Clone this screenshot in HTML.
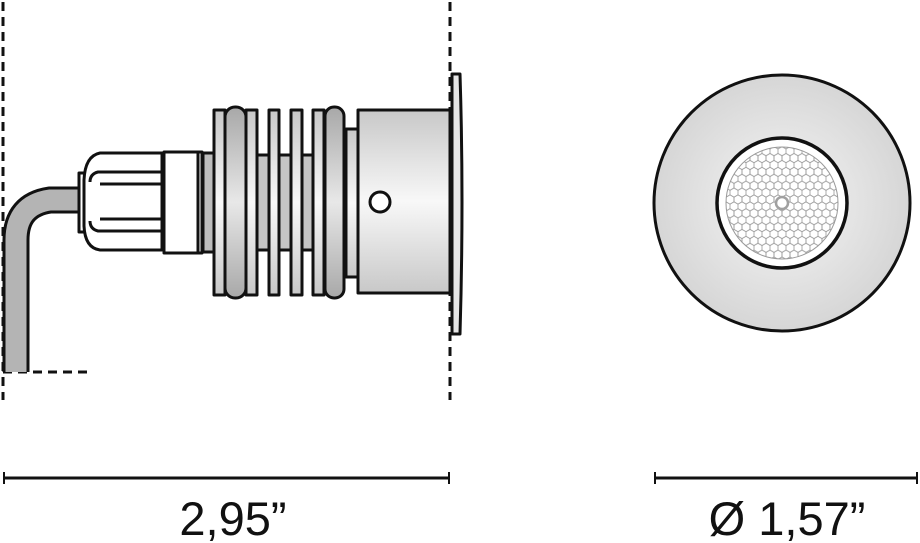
<!DOCTYPE html>
<html><head><meta charset="utf-8"><style>
html,body{margin:0;padding:0;background:#fff;}
svg{display:block;}
text{font-family:"Liberation Sans",sans-serif;}
</style></head><body>
<svg width="920" height="543" viewBox="0 0 920 543" xmlns="http://www.w3.org/2000/svg">
<defs>
<linearGradient id="cyl" x1="0" y1="0" x2="0" y2="1">
<stop offset="0" stop-color="#c8c8c8"/><stop offset="0.5" stop-color="#f8f8f8"/><stop offset="1" stop-color="#c8c8c8"/>
</linearGradient>
<linearGradient id="ring" x1="0" y1="0" x2="0" y2="1">
<stop offset="0" stop-color="#a8a8a8"/><stop offset="0.5" stop-color="#e8e8e8"/><stop offset="1" stop-color="#a8a8a8"/>
</linearGradient>
<radialGradient id="disc" cx="0.5" cy="0.5" r="0.5">
<stop offset="0" stop-color="#f6f6f6"/><stop offset="1" stop-color="#d6d6d6"/>
</radialGradient>
<pattern id="hex" width="8" height="13.8" patternUnits="userSpaceOnUse" x="778" y="199.5">
<g fill="none" stroke="#9a9a9a" stroke-width="0.8">
<path d="M0,-4.6 L4,-2.3 L4,2.3 L0,4.6 L-4,2.3 L-4,-2.3Z"/>
<path transform="translate(8,0)" d="M0,-4.6 L4,-2.3 L4,2.3 L0,4.6 L-4,2.3 L-4,-2.3Z"/>
<path transform="translate(4,6.9)" d="M0,-4.6 L4,-2.3 L4,2.3 L0,4.6 L-4,2.3 L-4,-2.3Z"/>
<path transform="translate(0,13.8)" d="M0,-4.6 L4,-2.3 L4,2.3 L0,4.6 L-4,2.3 L-4,-2.3Z"/>
<path transform="translate(8,13.8)" d="M0,-4.6 L4,-2.3 L4,2.3 L0,4.6 L-4,2.3 L-4,-2.3Z"/>
</g>
</pattern>
</defs>

<!-- dashed guides -->
<g stroke="#111" stroke-width="3" stroke-dasharray="9,6" fill="none">
<line x1="3" y1="2" x2="3" y2="400"/>
<line x1="450" y1="2" x2="450" y2="400"/>
<line x1="3" y1="372" x2="93" y2="372"/>
</g>

<!-- cable -->
<path d="M16,372 L16,240 Q16,205 50,200 L82,200" fill="none" stroke="#111" stroke-width="27"/>
<path d="M16,372 L16,240 Q16,205 50,200 L82,200" fill="none" stroke="#b4b4b4" stroke-width="21"/>

<g stroke="#111" stroke-width="3" stroke-linejoin="round">
<!-- gland -->
<rect x="79" y="173" width="6" height="59" fill="#fff"/>
<path d="M162,153 L100,153 Q85,156 84,180 L84,226 Q85,248 100,250 L162,250 Z" fill="#fff"/>
<path d="M162,172 L98,172 Q90,174 90,182 M162,184 L100,184" fill="none"/>
<path d="M162,219 L100,219 M162,231 L98,231 Q90,229 90,221" fill="none"/>
<rect x="164" y="152" width="38" height="101" fill="#fff"/>
<line x1="198" y1="152" x2="198" y2="253"/>
<rect x="203" y="153" width="11" height="99" fill="#bdbdbd"/>
<!-- core -->
<rect x="214" y="155" width="132" height="95" fill="#c4c4c4"/>
<!-- fins -->
<rect x="214" y="110" width="11" height="185" fill="url(#cyl)"/>
<rect x="246" y="110" width="11" height="185" fill="url(#cyl)"/>
<rect x="269" y="110" width="10" height="185" fill="url(#cyl)"/>
<rect x="291" y="110" width="11" height="185" fill="url(#cyl)"/>
<rect x="313" y="110" width="11" height="185" fill="url(#cyl)"/>
<rect x="225" y="107" width="21" height="191" rx="10" fill="url(#ring)"/>
<rect x="325" y="107" width="19" height="191" rx="9" fill="url(#ring)"/>
<!-- neck & body -->
<rect x="346" y="129" width="12" height="148" fill="url(#cyl)"/>
<rect x="358" y="110" width="92" height="183" fill="url(#cyl)"/>
<circle cx="380" cy="202" r="10" fill="#fff"/>
<!-- flange -->
<path d="M452,74 L460,74 Q464,200 460,334 L452,334 Z" fill="#e6e6e6"/>
</g>

<!-- front view -->
<circle cx="782" cy="203" r="128" fill="url(#disc)" stroke="#111" stroke-width="3"/>
<circle cx="782" cy="203" r="65" fill="#fff" stroke="#111" stroke-width="3.5"/>
<circle cx="782" cy="203" r="56" fill="url(#hex)" stroke="#999" stroke-width="1"/>
<circle cx="782" cy="203" r="6" fill="#fff" stroke="#a0a0a0" stroke-width="2.5"/>

<!-- dimensions -->
<g stroke="#111" stroke-width="3">
<line x1="4" y1="478" x2="449" y2="478"/>
<line x1="4" y1="472" x2="4" y2="484" stroke-width="2"/>
<line x1="449" y1="472" x2="449" y2="484" stroke-width="2"/>
<line x1="655" y1="478" x2="917" y2="478"/>
<line x1="655" y1="472" x2="655" y2="484" stroke-width="2"/>
<line x1="917" y1="472" x2="917" y2="484" stroke-width="2"/>
</g>
<text x="233" y="535" font-size="47" text-anchor="middle" fill="#111">2,95”</text>
<text x="787" y="535" font-size="47" text-anchor="middle" fill="#111">Ø 1,57”</text>
</svg>
</body></html>
